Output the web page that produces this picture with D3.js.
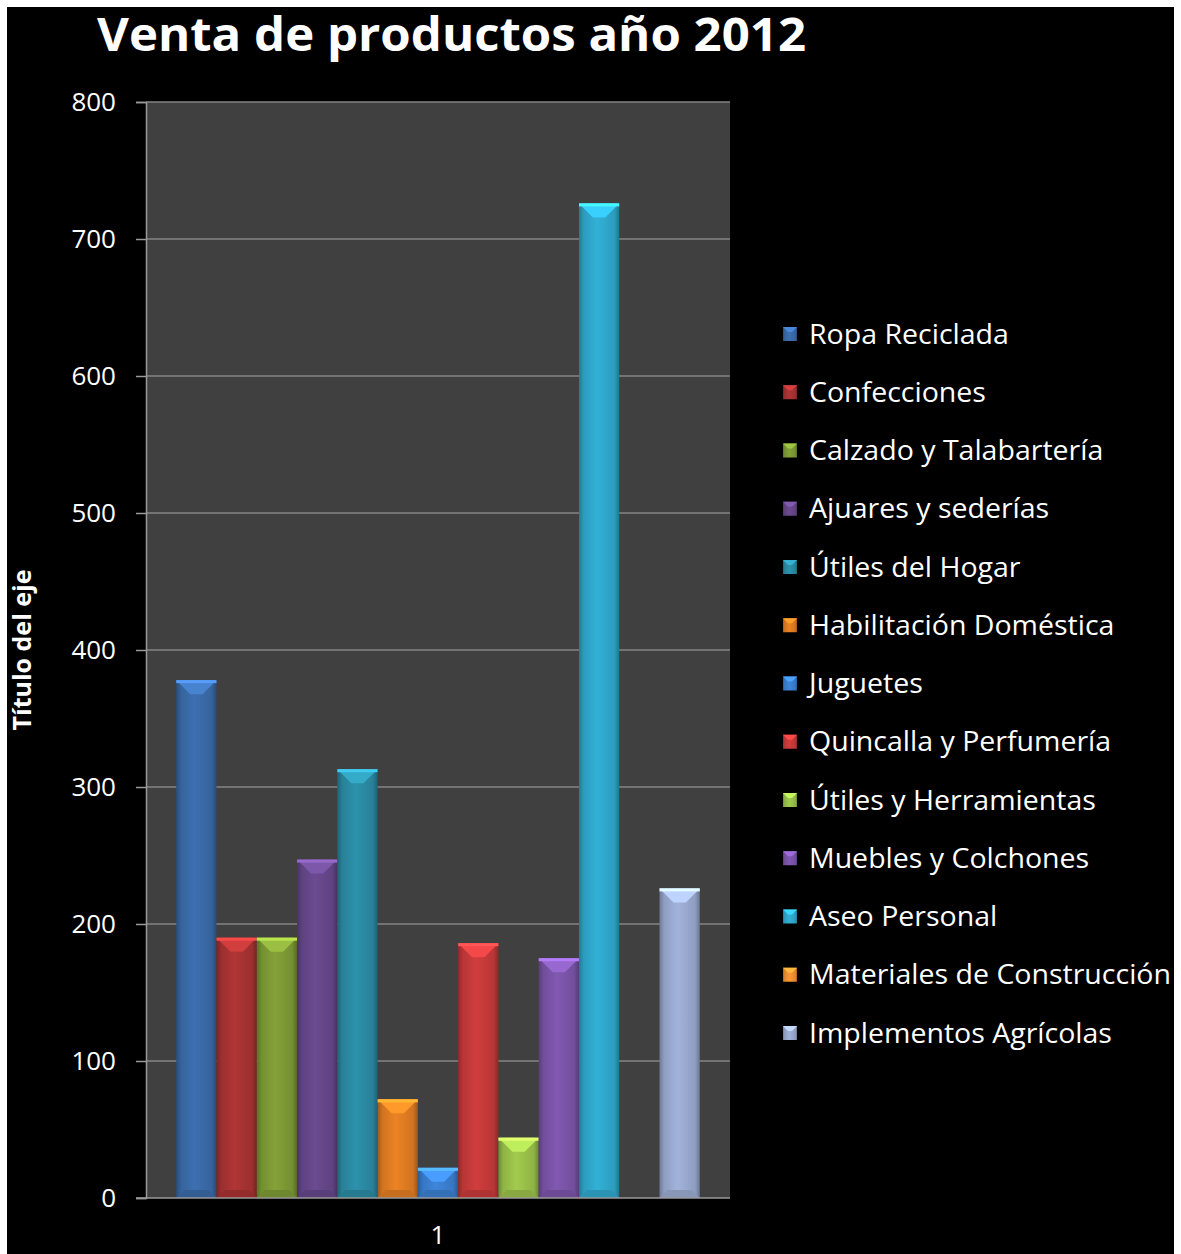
<!DOCTYPE html>
<html>
<head>
<meta charset="utf-8">
<script src="https://cdn.jsdelivr.net/npm/d3@7"></script>
<style>
  body { margin: 0; background: #fff; }
  svg { display: block; }
  text { font-family: "Open Sans", sans-serif; fill: #fff; }
</style>
</head>
<body>
<div id="chart"></div>
<script>
// data
const series = ["Ropa Reciclada", "Confecciones", "Calzado y Talabartería", "Ajuares y sederías",
    "Útiles del Hogar", "Habilitación Doméstica", "Juguetes", "Quincalla y Perfumería",
    "Útiles y Herramientas", "Muebles y Colchones", "Aseo Personal", "Materiales de Construcción",
    "Implementos Agrícolas"]
const values = [378, 190, 190, 247, 313, 72, 22, 186, 44, 175, 726, 0, 226]
const colors = ["#3a6aa8", "#a83232", "#7d9a35", "#654789", "#2b8aa3", "#e07c22", "#3b7fd0",
    "#c63a3a", "#9ac04a", "#7a54a8", "#2fa8cc", "#f09030", "#9aaad0"]
const categories = ["1"]
const yTicks = [0, 100, 200, 300, 400, 500, 600, 700, 800]

const W = 1181, H = 1254
const margin = { top: 102, left: 146, right: 451, bottom: 56 }
const width = W - margin.left - margin.right,
    height = H - margin.top - margin.bottom

const svg = d3.select("#chart").append("svg")
    .attr("width", W).attr("height", H)

// black frame with thin white border
svg.append("rect").attr("x", 7).attr("y", 7).attr("width", 1167).attr("height", H - 7)
    .attr("fill", "#000")

const defs = svg.append("defs")
colors.forEach(function (c, i) {
    const g = defs.append("linearGradient").attr("id", "grad" + i)
        .attr("x1", "0%").attr("x2", "100%").attr("y1", "0%").attr("y2", "0%")
    const base = d3.color(c)
    g.append("stop").attr("offset", "0%").attr("stop-color", base.darker(0.9))
    g.append("stop").attr("offset", "12%").attr("stop-color", base.darker(0.2))
    g.append("stop").attr("offset", "45%").attr("stop-color", base.brighter(0.15))
    g.append("stop").attr("offset", "88%").attr("stop-color", base.darker(0.2))
    g.append("stop").attr("offset", "100%").attr("stop-color", base.darker(1))
})

const chart = svg.append("g")
    .attr("transform", `translate(${margin.left}, ${margin.top})`)

chart.append("rect").attr("width", width).attr("height", height).attr("fill", "#404040")

const y = d3.scaleLinear().domain([0, 800]).range([height, 0])
const x0 = d3.scaleBand().domain(categories).range([0, width])
// 150% gap width: the group holds 13 bars plus 1.5 bars of gap
const bw = width / (series.length + 1.5)
const xb = d3.scaleBand().domain(series)
    .range([bw * 0.75, width - bw * 0.75])

// gridlines
chart.append("g").selectAll("line").data(yTicks.slice(1)).join("line")
    .attr("x1", 0).attr("x2", width)
    .attr("y1", d => y(d)).attr("y2", d => y(d))
    .attr("stroke", "#858585").attr("stroke-width", 1.5)

// bars
const barData = series.map((s, i) => ({ name: s, value: values[i], color: colors[i], i: i }))
const bars = chart.append("g").selectAll("g").data(barData).join("g")
bars.append("rect")
    .attr("x", d => xb(d.name))
    .attr("y", d => y(d.value))
    .attr("width", xb.bandwidth())
    .attr("height", d => height - y(d.value))
    .attr("fill", d => `url(#grad${d.i})`)
const shown = bars.filter(d => d.value > 0)
// top bevel
shown.append("path")
    .attr("d", function (d) {
        const xa = xb(d.name), xc = xa + xb.bandwidth(), t = y(d.value)
        const b = Math.min(14, (height - t) / 2)
        return `M${xa},${t}L${xc},${t}L${xc - b},${t + b}L${xa + b},${t + b}Z`
    })
    .attr("fill", d => d3.color(d.color).brighter(0.6))
shown.append("rect")
    .attr("x", d => xb(d.name))
    .attr("y", d => y(d.value))
    .attr("width", xb.bandwidth())
    .attr("height", 3)
    .attr("fill", d => d3.color(d.color).brighter(1.1))
// bottom bevel
shown.append("path")
    .attr("d", function (d) {
        const xa = xb(d.name), xc = xa + xb.bandwidth(), t = height
        const b = Math.min(8, (height - y(d.value)) / 2)
        return `M${xa},${t}L${xc},${t}L${xc - b},${t - b}L${xa + b},${t - b}Z`
    })
    .attr("fill", d => d3.color(d.color).darker(0.35))

// axes
const yAxis = chart.append("g")
    .call(d3.axisLeft(y).tickValues(yTicks).tickSize(10).tickPadding(20))
yAxis.select(".domain").attr("stroke", "#9a9a9a").attr("stroke-width", 1.5)
yAxis.selectAll(".tick line").attr("stroke", "#9a9a9a").attr("stroke-width", 1.5)
yAxis.selectAll(".tick text").style("font-size", "26px").attr("fill", "#fff")
    .style("font-family", "Open Sans, sans-serif")

const xAxis = chart.append("g").attr("transform", `translate(0, ${height})`)
    .call(d3.axisBottom(x0).tickSize(0).tickPadding(28))
xAxis.select(".domain").attr("stroke", "#9a9a9a").attr("stroke-width", 1.5)
    .attr("d", `M-10,0H${width}`)
xAxis.selectAll(".tick text").style("font-size", "26px").attr("fill", "#fff")
    .style("font-family", "Open Sans, sans-serif")

// axis title
svg.append("text")
    .attr("transform", "translate(31, 650) rotate(-90)")
    .attr("text-anchor", "middle")
    .style("font-size", "25px").style("font-weight", "bold")
    .text("Título del eje")

// title
svg.append("text")
    .attr("x", 97).attr("y", 51)
    .style("font-size", "46px").style("font-weight", "bold")
    .attr("textLength", 709).attr("lengthAdjust", "spacingAndGlyphs")
    .text("Venta de productos año 2012")

// legend
const legend = svg.append("g").attr("transform", "translate(783, 334)")
const rowH = 58.25
const items = legend.selectAll("g").data(barData).join("g")
    .attr("transform", d => `translate(0, ${d.i * rowH})`)
items.append("rect").attr("x", 0).attr("y", -7).attr("width", 14).attr("height", 14)
    .attr("fill", d => `url(#grad${d.i})`)
items.append("path").attr("d", "M0,-7L14,-7L9,-2L5,-2Z")
    .attr("fill", d => d3.color(d.color).brighter(0.7))
const labels = items.append("text").attr("x", 26).attr("dy", "0.36em")
    .style("font-size", "27px")
    .text(d => d.name)
// Calibri is narrower than our fonts: squeeze to match the longest label
const longest = labels.filter(d => d.name === "Materiales de Construcción").node().getComputedTextLength()
const k = 362 / longest
labels.each(function () {
    const w = this.getComputedTextLength()
    d3.select(this).attr("textLength", w * k).attr("lengthAdjust", "spacingAndGlyphs")
})
</script>
</body>
</html>
